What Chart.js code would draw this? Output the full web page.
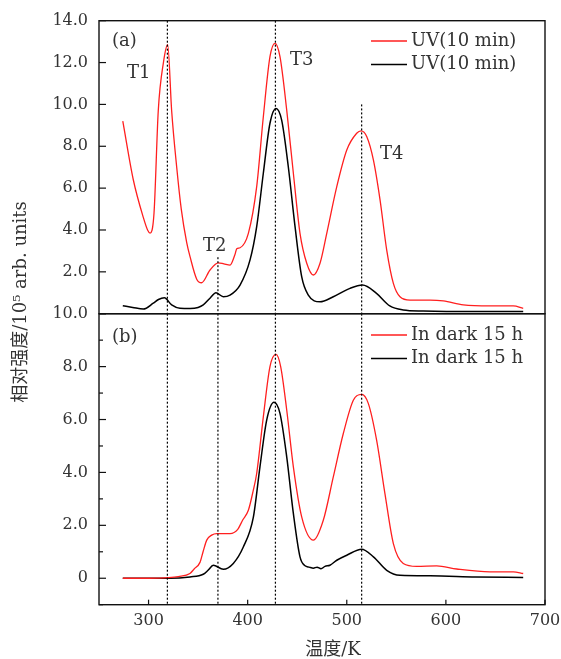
<!DOCTYPE html>
<html>
<head>
<meta charset="utf-8">
<script src="https://cdn.jsdelivr.net/npm/chart.js@4/dist/chart.umd.min.js"></script>
<style>
html, body { margin: 0; background: #fff; }
#wrap { position: relative; width: 561px; height: 659px; }
#wrap canvas { position: absolute; left: 0; top: 0; }
</style>
</head>
<body>
<div id="wrap">
    <canvas id="topChart" width="561" height="659"></canvas>
    <canvas id="botChart" width="561" height="659"></canvas>
</div>
<script>
// panel (a): UV 10 min
const TEMP_A_RED = [274, 284.6, 294.7, 299, 301.5, 305.5, 309.8, 315, 319.3, 323.3, 328.4, 333, 338.5, 342, 348.6, 353.6, 362, 370.4, 376, 382.2, 387, 389, 392.3, 400.7, 409.1, 415.8, 422.5, 427.6, 432.6, 439.4, 446.1, 452.8, 459.6, 466.3, 473, 479.8, 489.9, 500, 510, 514.4, 520.2, 526.9, 533.6, 540.3, 547, 553.7, 563.8, 584, 597.4, 617.6, 644.5, 668, 678];
const UV_RED = [9.2, 6.4, 4.6, 4.0, 3.85, 4.8, 9.7, 12.0, 12.85, 9.7, 7.0, 5.0, 3.4, 2.7, 1.65, 1.48, 2.09, 2.43, 2.38, 2.32, 2.8, 3.1, 3.15, 3.84, 6.07, 9.41, 12.28, 12.92, 12.28, 9.73, 6.71, 3.84, 2.41, 1.85, 2.41, 3.84, 6.07, 7.82, 8.62, 8.74, 8.46, 7.34, 5.43, 3.04, 1.45, 0.81, 0.65, 0.65, 0.61, 0.42, 0.37, 0.37, 0.26];
const TEMP_A_BLACK = [274, 284, 294.7, 304.8, 310, 316, 323.3, 331.7, 342, 350, 355.2, 362, 368, 375.4, 382.2, 392.3, 402.4, 409.1, 415.8, 422.5, 428.6, 434.3, 441, 447.8, 454.5, 461.2, 473, 486.4, 503.2, 515.9, 530, 543.4, 556.9, 577, 627.5, 678];
const UV_BLACK = [0.38, 0.3, 0.22, 0.5, 0.68, 0.76, 0.42, 0.26, 0.25, 0.3, 0.42, 0.74, 1.0, 0.81, 0.89, 1.37, 2.57, 4.16, 6.71, 9.1, 9.81, 9.25, 7.02, 4.16, 1.77, 0.89, 0.57, 0.81, 1.21, 1.37, 0.97, 0.37, 0.18, 0.13, 0.1, 0.1];

// panel (b): in dark 15 h
const TEMP_B_RED = [274, 300, 320, 330, 341.8, 346, 351.9, 355, 358.7, 363.7, 368.8, 382.2, 390, 395, 400.7, 405.7, 409.1, 415.8, 422.5, 428.6, 433.3, 439.4, 446.1, 454.5, 466.3, 476.3, 486.4, 496.5, 506.6, 515, 521.7, 530.1, 538.5, 547, 557, 570.5, 590.7, 610.9, 644.5, 668, 678];
const DARK_RED = [0, 0, 0.02, 0.06, 0.18, 0.35, 0.6, 1.0, 1.44, 1.63, 1.69, 1.69, 1.85, 2.2, 2.57, 3.33, 3.96, 6.1, 8.0, 8.46, 8.0, 6.36, 4.21, 2.32, 1.44, 2.19, 3.83, 5.47, 6.73, 6.95, 6.61, 5.22, 3.2, 1.31, 0.56, 0.45, 0.47, 0.35, 0.24, 0.24, 0.18];
const TEMP_B_BLACK = [274, 320, 341.8, 355.2, 360, 365.3, 375.4, 385.5, 395.6, 405.7, 412.4, 419.2, 426.6, 432.6, 439.4, 446.1, 452.8, 457.9, 462, 466.3, 470, 474, 478, 483, 489.9, 500, 515, 526.9, 540.3, 553.7, 584, 630, 678];
const DARK_BLACK = [0, 0, 0.05, 0.15, 0.3, 0.49, 0.34, 0.56, 1.18, 2.3, 4.21, 5.98, 6.65, 6.23, 4.59, 2.45, 0.81, 0.47, 0.42, 0.38, 0.42, 0.36, 0.45, 0.49, 0.68, 0.87, 1.1, 0.81, 0.3, 0.11, 0.09, 0.05, 0.03];

const PEAK_T = [319, 370, 428, 515];      // T1..T4 dotted lines
const PEAK_TOP_A = [14, 2.7, 14, 10];     // where the dotted lines start in panel (a)
const X_TICKS = [300, 400, 500, 600, 700];
const Y_TICKS_A = [0, 1, 2, 3, 4, 5, 6, 7, 8, 9, 10, 11, 12, 13, 14];
const Y_TICKS_B = [-1, 0, 1, 2, 3, 4, 5, 6, 7, 8, 9, 10];

const FONT = '"DejaVu Serif", "Noto Sans CJK SC", serif';
const INK = '#333';
const RED = '#ff1f1f';

Chart.defaults.font.family = FONT;
Chart.defaults.font.size = 16;
Chart.defaults.color = INK;

const pts = (xs, ys) => xs.map((t, i) => ({ x: t, y: ys[i] }));

function seg(ctx, x1, y1, x2, y2) {
    ctx.beginPath(); ctx.moveTo(x1, y1); ctx.lineTo(x2, y2); ctx.stroke();
}

const panelPlugin = {
    id: 'panel',
    afterDatasetsDraw(chart, args, o) {
        const { ctx, chartArea: a, scales: { x, y } } = chart;
        ctx.save();
        // dotted peak markers
        ctx.strokeStyle = '#000'; ctx.lineWidth = 1.2; ctx.setLineDash([2, 2]);
        PEAK_T.forEach((t, i) => {
            const px = x.getPixelForValue(t);
            const top = o.lineTop ? y.getPixelForValue(o.lineTop[i]) : a.top;
            seg(ctx, px, top, px, a.bottom);
        });
        ctx.setLineDash([]);
        // frame
        ctx.strokeStyle = '#111'; ctx.lineWidth = 1.4;
        ctx.strokeRect(a.left, a.top, a.right - a.left, a.bottom - a.top);
        // inward ticks
        ctx.lineWidth = 1.2;
        y.ticks.forEach(t => {
            const py = y.getPixelForValue(t.value);
            seg(ctx, a.left, py, a.left + (t.value % 2 === 0 ? 7 : 4), py);
        });
        if (o.xTicks) {
            X_TICKS.forEach(v => {
                const px = x.getPixelForValue(v);
                seg(ctx, px, a.bottom, px, a.bottom - 5);
            });
        }
        // notes
        ctx.fillStyle = INK; ctx.font = '18px ' + FONT; ctx.textBaseline = 'middle'; ctx.textAlign = 'left';
        o.notes.forEach(n => ctx.fillText(n[0], n[1], n[2]));
        // legend
        chart.data.datasets.forEach((ds, i) => {
            const ly = o.legendY + i * 23.5;
            ctx.strokeStyle = ds.borderColor; ctx.lineWidth = ds.borderWidth;
            seg(ctx, 371, ly, 407, ly);
            ctx.fillText(ds.label, 411, ly);
        });
        // axis titles (bottom chart only)
        if (o.titles) {
            ctx.textAlign = 'center';
            ctx.fillText('温度/K', 333, 650);
            ctx.translate(21, 302);
            ctx.rotate(-Math.PI / 2);
            ctx.fillText('相对强度/10⁵ arb. units', 0, 0);
        }
        ctx.restore();
    }
};

function lineSet(label, data, color, width) {
    return {
        label, data, borderColor: color, borderWidth: width,
        pointRadius: 0, fill: false, cubicInterpolationMode: 'monotone'
    };
}

function makeOpts(yMin, yMax, yTicks, fmt, pad, showX, panel) {
    return {
        responsive: false, animation: false,
        layout: { padding: pad },
        plugins: { legend: { display: false }, tooltip: { enabled: false }, panel },
        scales: {
            x: {
                type: 'linear', min: 250, max: 700, display: showX,
                grid: { display: false, drawTicks: false }, border: { display: false },
                ticks: { padding: 7 },
                afterBuildTicks: s => { s.ticks = X_TICKS.map(v => ({ value: v })); },
                afterFit: s => {
                    s.height = showX ? 54.3 : 0;
                    s.paddingLeft = 0; s.paddingRight = 0;
                }
            },
            y: {
                min: yMin, max: yMax,
                grid: { display: false, drawTicks: false }, border: { display: false },
                ticks: { padding: 11, callback: fmt },
                afterBuildTicks: s => { s.ticks = yTicks.map(v => ({ value: v })); },
                afterFit: s => { s.width = 99; s.paddingTop = 0; s.paddingBottom = 0; }
            }
        }
    };
}

new Chart(document.getElementById('topChart'), {
    type: 'line',
    data: {
        datasets: [
            lineSet('UV(10 min)', pts(TEMP_A_RED, UV_RED), RED, 1.3),
            lineSet('UV(10 min)', pts(TEMP_A_BLACK, UV_BLACK), '#000', 1.5)
        ]
    },
    options: makeOpts(0, 14, Y_TICKS_A,
        v => (v > 0 && v % 2 === 0) ? v.toFixed(1) : '',
        { left: 0, right: 16, top: 20.7, bottom: 345.3 }, false,
        {
            lineTop: PEAK_TOP_A, legendY: 41,
            notes: [['(a)', 112, 41], ['T1', 127, 73], ['T2', 203, 246], ['T3', 290, 60], ['T4', 380, 154]]
        }),
    plugins: [panelPlugin]
});

new Chart(document.getElementById('botChart'), {
    type: 'line',
    data: {
        datasets: [
            lineSet('In dark 15 h', pts(TEMP_B_RED, DARK_RED), RED, 1.3),
            lineSet('In dark 15 h', pts(TEMP_B_BLACK, DARK_BLACK), '#000', 1.5)
        ]
    },
    options: makeOpts(-1, 10, Y_TICKS_B,
        v => (v >= 0 && v % 2 === 0) ? (v === 0 ? '0' : v.toFixed(1)) : '',
        { left: 0, right: 16, top: 313.7, bottom: 0 }, true,
        { xTicks: true, titles: true, legendY: 335, notes: [['(b)', 112, 337]] }),
    plugins: [panelPlugin]
});
</script>
</body>
</html>
